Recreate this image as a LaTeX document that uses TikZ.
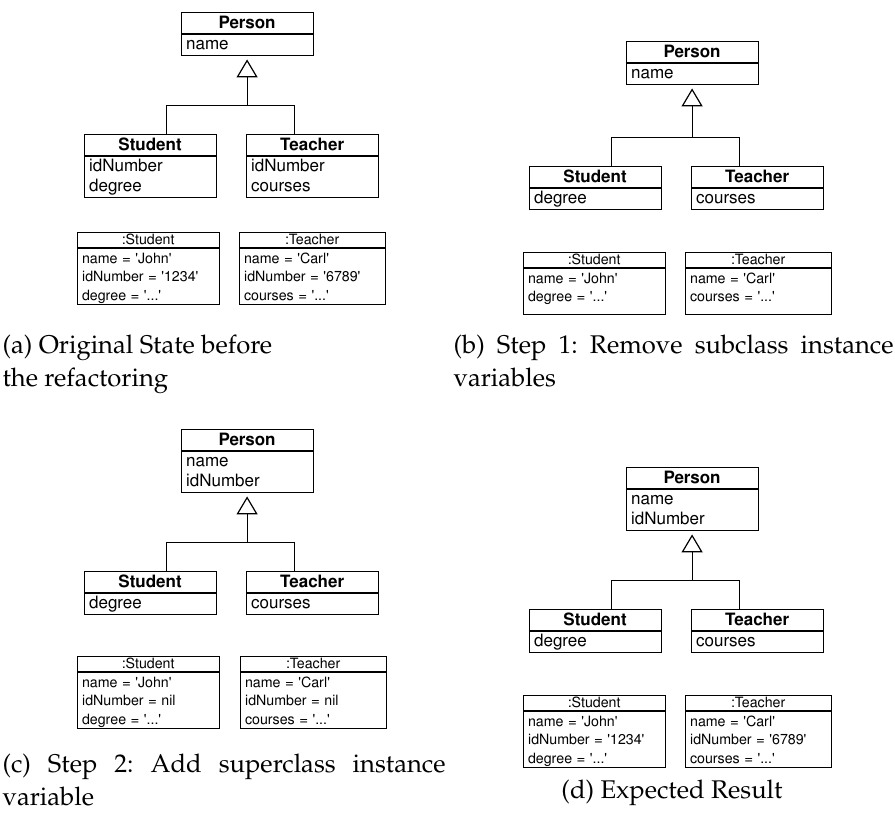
\documentclass[tikz,border=0pt]{standalone}
\usepackage[T1]{fontenc}
\usepackage{mathpazo}
\usepackage{helvet}
\usetikzlibrary{positioning,arrows.meta}

\newcommand{\capfont}{\rmfamily\fontsize{25.6}{33}\selectfont}
\newcommand{\clsfont}{\sffamily\fontsize{17}{20}\selectfont}
\newcommand{\objfont}{\sffamily\fontsize{14.2}{18.5}\selectfont}
\newcommand{\sq}[1]{\textquotesingle#1\textquotesingle}

\begin{document}
\begin{tikzpicture}[x=1pt, y=-1pt, line width=1.2pt,
        clsname/.style={draw, anchor=north west, minimum width=132pt, inner sep=0pt,
            text height=16.5pt, text depth=4.5pt, font=\clsfont\bfseries},
        clsattr/.style={draw, text width=122pt, inner xsep=5pt, inner ysep=0pt,
            align=left, text height=15.5pt, text depth=#1, font=\clsfont},
        objname/.style={draw, anchor=north west, minimum width=#1, inner sep=0pt,
            text height=12pt, text depth=3pt, font=\objfont},
        objattr/.style={draw, text width=#1, inner xsep=5pt, inner ysep=0pt,
            align=left, text height=15pt, font=\objfont},
        gen/.style={-{Triangle[open, length=18pt, width=21pt]}, shorten >=3.5pt},
        capline/.style={anchor=base west, inner sep=0pt, font=\capfont}]
\useasboundingbox (0,0) rectangle (895,819);

% (a) original state
\node[clsname] (pA) at (180.5,11.5) {Person};
\node[clsattr=5.5pt, below=0pt of pA] (pAatt) {name};
\node[clsname] (sA) at (83.5,133.5) {Student};
\node[clsattr=25.5pt, below=0pt of sA] (sAatt) {idNumber\\degree};
\node[clsname] (tA) at (245.5,133.5) {Teacher};
\node[clsattr=25.5pt, below=0pt of tA] (tAatt) {idNumber\\courses};
\coordinate[yshift=28pt] (jA) at (pA.south |- sA.north);
\draw ([xshift=16pt]sA.north) |- (jA) -| ([xshift=-18pt]tA.north);
\draw[gen] (jA) -- (pAatt.south);

\node[objname=142pt] (soA) at (76.5,231.5) {:Student};
\node[objattr=132pt, text depth=41pt, below=0pt of soA] (soAatt)
    {name = \sq{John}\\idNumber = \sq{1234}\\degree = \sq{...}};
\node[objname=146pt] (toA) at (238.5,231.5) {:Teacher};
\node[objattr=136pt, text depth=41pt, below=0pt of toA] (toAatt)
    {name = \sq{Carl}\\idNumber = \sq{6789}\\courses = \sq{...}};

\node[capline] (capA1) at (2,353) {(a) Original State before};
\node[capline] (capA2) at (2,386) {the refactoring};

% (b) step 1
\node[clsname] (pB) at (625.5,40.5) {Person};
\node[clsattr=5.5pt, below=0pt of pB] (pBatt) {name};
\node[clsname] (sB) at (528.5,165.5) {Student};
\node[clsattr=5.5pt, below=0pt of sB] (sBatt) {degree};
\node[clsname] (tB) at (690.5,165.5) {Teacher};
\node[clsattr=5.5pt, below=0pt of tB] (tBatt) {courses};
\coordinate[yshift=28pt] (jB) at (pB.south |- sB.north);
\draw ([xshift=16pt]sB.north) |- (jB) -| ([xshift=-18pt]tB.north);
\draw[gen] (jB) -- (pBatt.south);

\node[objname=142pt] (soB) at (522.5,251.5) {:Student};
\node[objattr=132pt, text depth=31pt, below=0pt of soB] (soBatt)
    {name = \sq{John}\\degree = \sq{...}};
\node[objname=146pt] (toB) at (684.5,251.5) {:Teacher};
\node[objattr=136pt, text depth=31pt, below=0pt of toB] (toBatt)
    {name = \sq{Carl}\\courses = \sq{...}};

\node[capline] (capB1) at (453,353)
    {\hbox to 440pt{(b)\hfill Step\hfill 1:\hfill Remove\hfill subclass\hfill instance}};
\node[capline] (capB2) at (453,386) {variables};

% (c) step 2
\node[clsname] (pC) at (180.5,428.5) {Person};
\node[clsattr=25.5pt, below=0pt of pC] (pCatt) {name\\idNumber};
\node[clsname] (sC) at (83.5,570.5) {Student};
\node[clsattr=5.5pt, below=0pt of sC] (sCatt) {degree};
\node[clsname] (tC) at (245.5,570.5) {Teacher};
\node[clsattr=5.5pt, below=0pt of tC] (tCatt) {courses};
\coordinate[yshift=28pt] (jC) at (pC.south |- sC.north);
\draw ([xshift=16pt]sC.north) |- (jC) -| ([xshift=-18pt]tC.north);
\draw[gen] (jC) -- (pCatt.south);

\node[objname=142pt] (soC) at (76.5,655.5) {:Student};
\node[objattr=132pt, text depth=41pt, below=0pt of soC] (soCatt)
    {name = \sq{John}\\idNumber = nil\\degree = \sq{...}};
\node[objname=146pt] (toC) at (239.5,655.5) {:Teacher};
\node[objattr=136pt, text depth=41pt, below=0pt of toC] (toCatt)
    {name = \sq{Carl}\\idNumber = nil\\courses = \sq{...}};

\node[capline] (capC1) at (2,772)
    {\hbox to 443pt{(c)\hfill Step\hfill 2:\hfill Add\hfill superclass\hfill instance}};
\node[capline] (capC2) at (2,805) {variable};

% (d) expected result
\node[clsname] (pD) at (625.5,466.5) {Person};
\node[clsattr=25.5pt, below=0pt of pD] (pDatt) {name\\idNumber};
\node[clsname] (sD) at (528.5,608.5) {Student};
\node[clsattr=5.5pt, below=0pt of sD] (sDatt) {degree};
\node[clsname] (tD) at (690.5,608.5) {Teacher};
\node[clsattr=5.5pt, below=0pt of tD] (tDatt) {courses};
\coordinate[yshift=28pt] (jD) at (pD.south |- sD.north);
\draw ([xshift=16pt]sD.north) |- (jD) -| ([xshift=-18pt]tD.north);
\draw[gen] (jD) -- (pDatt.south);

\node[objname=142pt] (soD) at (522.5,694.5) {:Student};
\node[objattr=132pt, text depth=41pt, below=0pt of soD] (soDatt)
    {name = \sq{John}\\idNumber = \sq{1234}\\degree = \sq{...}};
\node[objname=146pt] (toD) at (684.5,694.5) {:Teacher};
\node[objattr=136pt, text depth=41pt, below=0pt of toD] (toDatt)
    {name = \sq{Carl}\\idNumber = \sq{6789}\\courses = \sq{...}};

\node[anchor=base, inner sep=0pt, font=\capfont] (capD) at (672,798) {(d) Expected Result};
\end{tikzpicture}
\end{document}
